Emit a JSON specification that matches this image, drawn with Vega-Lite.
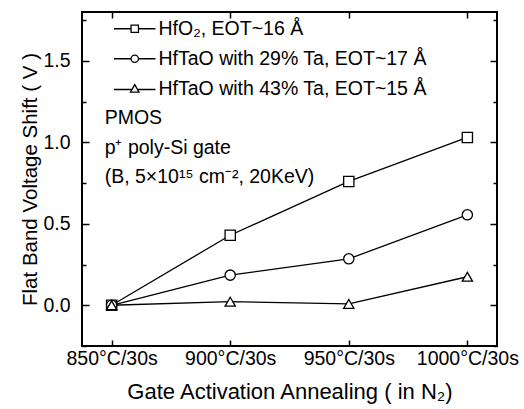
{
  "$schema": "https://vega.github.io/schema/vega-lite/v6.json",
  "width": 415,
  "height": 334,
  "autosize": "none",
  "padding": {"left": 82, "top": 12, "right": 27, "bottom": 63},
  "background": "white",
  "config": {
    "font": "Liberation Sans",
    "view": {"stroke": "black", "strokeWidth": 2},
    "axis": {"domain": false, "grid": false, "labelColor": "black", "titleColor": "black", "tickColor": "black", "tickWidth": 1.5, "labelFontSize": 19.5, "titleFontSize": 22, "titleFontWeight": "normal", "tickSize": -6}
  },
  "data": {
    "values": [
      {"anneal": "850°C/30s", "series": "HfO₂, EOT~16 Å", "shift": 0.0},
      {"anneal": "900°C/30s", "series": "HfO₂, EOT~16 Å", "shift": 0.43},
      {"anneal": "950°C/30s", "series": "HfO₂, EOT~16 Å", "shift": 0.76},
      {"anneal": "1000°C/30s", "series": "HfO₂, EOT~16 Å", "shift": 1.03},
      {"anneal": "850°C/30s", "series": "HfTaO with 29% Ta, EOT~17 Å", "shift": 0.0},
      {"anneal": "900°C/30s", "series": "HfTaO with 29% Ta, EOT~17 Å", "shift": 0.185},
      {"anneal": "950°C/30s", "series": "HfTaO with 29% Ta, EOT~17 Å", "shift": 0.285},
      {"anneal": "1000°C/30s", "series": "HfTaO with 29% Ta, EOT~17 Å", "shift": 0.555},
      {"anneal": "850°C/30s", "series": "HfTaO with 43% Ta, EOT~15 Å", "shift": 0.0},
      {"anneal": "900°C/30s", "series": "HfTaO with 43% Ta, EOT~15 Å", "shift": 0.022},
      {"anneal": "950°C/30s", "series": "HfTaO with 43% Ta, EOT~15 Å", "shift": 0.008},
      {"anneal": "1000°C/30s", "series": "HfTaO with 43% Ta, EOT~15 Å", "shift": 0.175}
    ]
  },
  "resolve": {"axis": {"x": "independent", "y": "independent"}, "scale": {"shape": "independent"}},
  "layer": [
    {
      "mark": {"type": "line", "color": "black", "strokeWidth": 1.3},
      "encoding": {
        "x": {"field": "anneal", "type": "ordinal", "sort": null,
              "scale": {"type": "point", "padding": 0.25},
              "axis": {"orient": "bottom", "title": "Gate Activation Annealing ( in N₂)", "labelAngle": 0, "labelPadding": 9, "titlePadding": 14}},
        "y": {"field": "shift", "type": "quantitative",
              "scale": {"domain": [-0.25, 1.8], "nice": false, "zero": false},
              "axis": {"orient": "left", "title": "Flat Band Voltage Shift ( V )", "titleFontSize": 20.5, "values": [0, 0.5, 1, 1.5],
                       "format": ".1f", "tickSize": -7, "labelPadding": 19, "titlePadding": 2}},
        "detail": {"field": "series"}
      }
    },
    {
      "mark": {"type": "point", "filled": true, "fill": "white", "stroke": "black", "strokeWidth": 1.3, "size": 105, "opacity": 1},
      "encoding": {
        "x": {"field": "anneal", "type": "ordinal", "sort": null,
              "axis": {"orient": "top", "title": null, "labels": false}},
        "y": {"field": "shift", "type": "quantitative",
              "axis": {"orient": "right", "title": null, "labels": false, "values": [0, 0.5, 1, 1.5], "tickSize": -7}},
        "shape": {"field": "series", "type": "nominal", "sort": null,
                  "scale": {"domain": ["HfO₂, EOT~16 Å", "HfTaO with 29% Ta, EOT~17 Å", "HfTaO with 43% Ta, EOT~15 Å"],
                            "range": ["square", "circle", "triangle-up"]},
                  "legend": null}
      }
    },
    {
      "mark": {"type": "point", "filled": false, "color": "black", "strokeWidth": 1.3, "opacity": 0},
      "encoding": {
        "x": {"field": "anneal", "type": "ordinal", "sort": null, "axis": null},
        "y": {"field": "shift", "type": "quantitative",
              "axis": {"orient": "right", "title": null, "labels": false, "values": [-0.25, 0.25, 0.75, 1.25, 1.75], "tickSize": -4}},
        "shape": {"field": "series", "type": "nominal", "sort": null,
                  "scale": {"domain": ["HfO₂, EOT~16 Å", "HfTaO with 29% Ta, EOT~17 Å", "HfTaO with 43% Ta, EOT~15 Å"],
                            "range": ["M-5.6,0H-1M-1,-1H1V1H-1ZM1,0H5.6", "M-5.6,0H-1M-1,0A1,1 0 1,0 1,0A1,1 0 1,0 -1,0M1,0H5.6", "M-5.6,0.2H-0.9M-1.15,0.9L0,-1.1L1.15,0.9ZM0.9,0.2H5.6"]},
                  "legend": {"orient": "none", "legendX": 23, "legendY": 7, "title": null, "labelFontSize": 19.5, "labelColor": "black", "labelLimit": 500,
                             "symbolSize": 55, "symbolOpacity": 1, "symbolStrokeColor": "black", "symbolStrokeWidth": 1.3,
                             "symbolOffset": 20, "labelOffset": 14, "rowPadding": 9}}
      }
    },
    {
      "data": {"values": [{"note": ["PMOS", "p⁺  poly-Si gate", "(B, 5×10¹⁵ cm⁻², 20KeV)"]}]},
      "mark": {"type": "text", "align": "left", "baseline": "middle", "fontSize": 19.5, "fontWeight": "normal", "color": "black", "lineHeight": 29.3, "dx": -7},
      "encoding": {
        "x": {"datum": "850°C/30s", "type": "ordinal", "axis": null},
        "y": {"datum": 1.147, "type": "quantitative",
              "axis": {"orient": "left", "title": null, "labels": false, "values": [-0.25, 0.25, 0.75, 1.25, 1.75], "tickSize": -4}},
        "text": {"field": "note"}
      }
    }
  ]
}
